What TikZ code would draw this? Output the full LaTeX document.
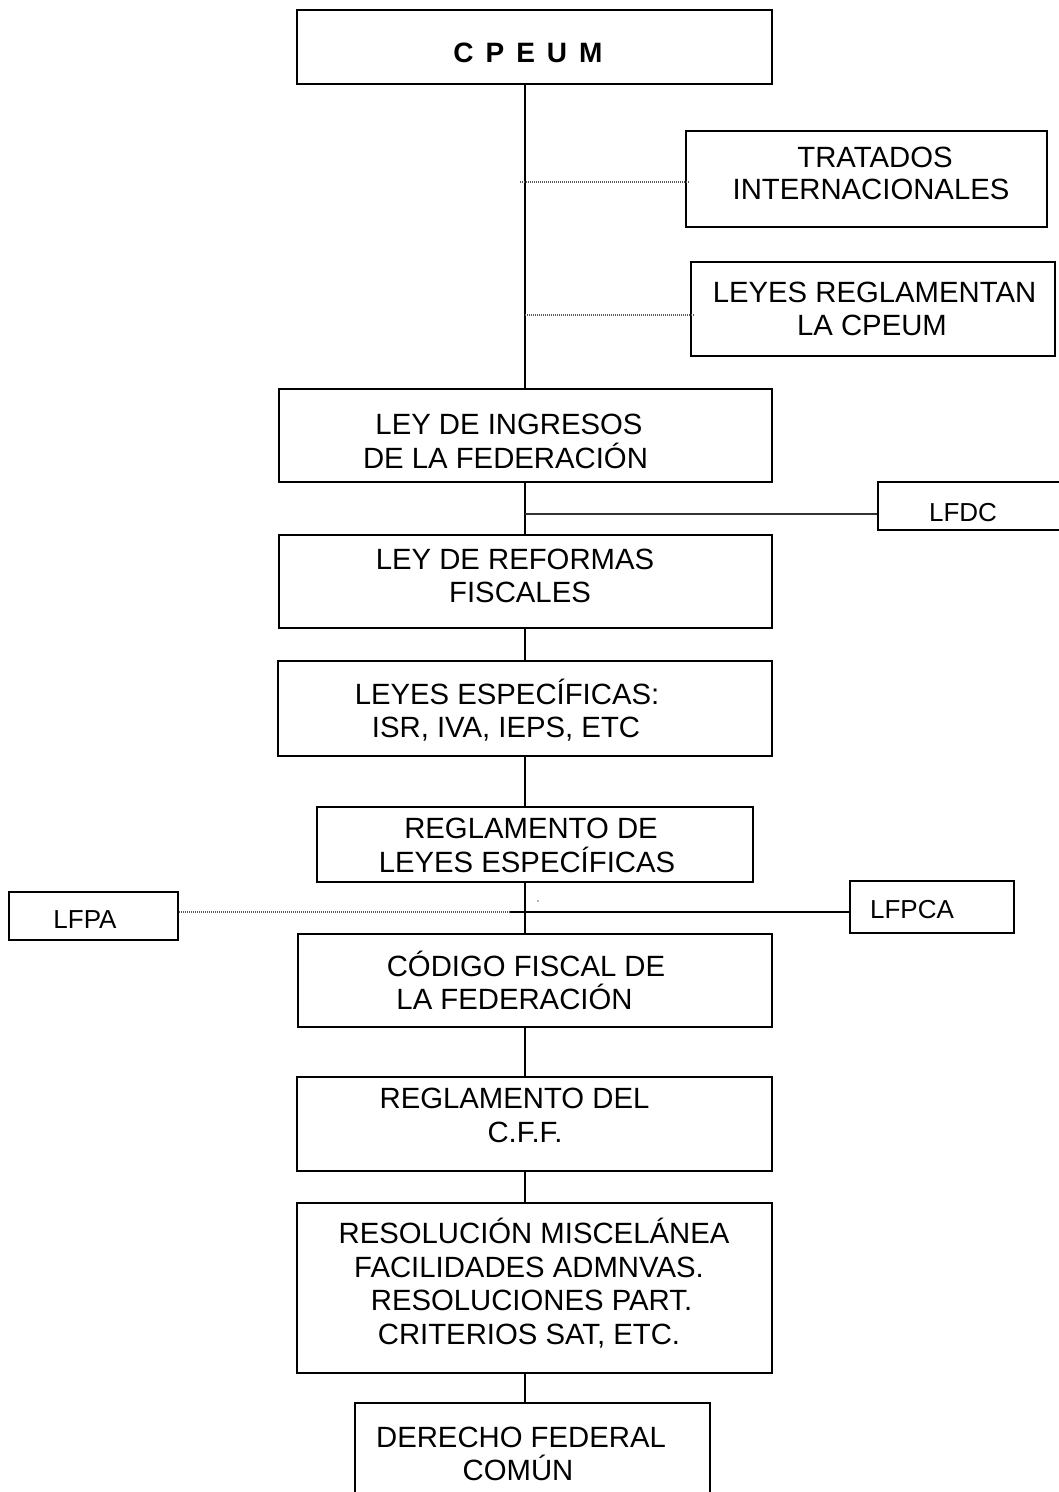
\documentclass[tikz,border=0pt]{standalone}
\usepackage{fontspec}
\setmainfont{Liberation Sans}
\tikzset{
  mainbox/.style={draw, line width=2.4pt, inner sep=0pt},
  smallbox/.style={draw, line width=1.8pt, inner sep=0pt},
  txt/.style={anchor=base, inner sep=0pt, font=\fontsize{29.3}{33.5}\selectfont},
  smalltxt/.style={anchor=base, inner sep=0pt, font=\fontsize{26}{30}\selectfont},
  trunk/.style={line width=2.5pt},
  dotline/.style={line width=1.3pt, black!65, dash pattern=on 1pt off 1pt},
  thinline/.style={line width=1.5pt, black!80},
}
\begin{document}
\begin{tikzpicture}[x=1pt,y=-1pt]
\useasboundingbox (0,0) rectangle (1059,1492);
\clip (0,0) rectangle (1059,1492);
\fill[white] (0,0) rectangle (1059,1492);
\coordinate (tx) at (525,0);

% boxes
\node[mainbox, minimum width=475, minimum height=74] (cpeum) at (534.5,47) {};
\node[mainbox, minimum width=361, minimum height=96] (tratados) at (866.5,179) {};
\node[mainbox, minimum width=364, minimum height=94] (leyesreg) at (873,309) {};
\node[mainbox, minimum width=493, minimum height=93] (ingresos) at (525.5,435.5) {};
\node[smallbox, minimum width=200, minimum height=48] (lfdc) at (978,506) {};
\node[mainbox, minimum width=493, minimum height=93] (reformas) at (525.5,581.5) {};
\node[mainbox, minimum width=494, minimum height=95] (especificas) at (525,708.5) {};
\node[mainbox, minimum width=436, minimum height=75] (reglamento) at (535,844.5) {};
\node[smallbox, minimum width=169, minimum height=48] (lfpa) at (93.5,916) {};
\node[smallbox, minimum width=164, minimum height=52] (lfpca) at (932,907) {};
\node[mainbox, minimum width=474, minimum height=93] (codigo) at (535,980.5) {};
\node[mainbox, minimum width=475, minimum height=94] (regcff) at (534.5,1124) {};
\node[mainbox, minimum width=475, minimum height=170] (resol) at (534.5,1288) {};
\node[mainbox, minimum width=355, minimum height=117] (derecho) at (532.5,1461.5) {};

% texts
\node[txt, font=\fontsize{28}{32}\selectfont\bfseries] (cpeum-t) at (528,62) {C\hspace{12pt}P\hspace{12pt}E\hspace{12pt}U\hspace{12pt}M};
\node[txt] (tratados-1) at (875,167) {TRATADOS};
\node[txt] (tratados-2) at (871,199) {INTERNACIONALES};
\node[txt] (leyesreg-1) at (874.5,302) {LEYES REGLAMENTAN};
\node[txt] (leyesreg-2) at (872,335) {LA CPEUM};
\node[txt] (ingresos-1) at (509,434) {LEY DE INGRESOS};
\node[txt] (ingresos-2) at (505.5,468) {DE LA FEDERACIÓN};
\node[smalltxt] (lfdc-t) at (963,521) {LFDC};
\node[txt] (reformas-1) at (515,569) {LEY DE REFORMAS};
\node[txt] (reformas-2) at (520,602) {FISCALES};
\node[txt] (especificas-1) at (507,704) {LEYES ESPECÍFICAS:};
\node[txt] (especificas-2) at (506,737) {ISR, IVA, IEPS, ETC};
\node[txt] (reglamento-1) at (531,838) {REGLAMENTO DE};
\node[txt] (reglamento-2) at (527,872) {LEYES ESPECÍFICAS};
\node[smalltxt] (lfpa-t) at (85,928) {LFPA};
\node[smalltxt] (lfpca-t) at (912,918) {LFPCA};
\node[txt] (codigo-1) at (526,976) {CÓDIGO FISCAL DE};
\node[txt] (codigo-2) at (514.5,1009) {LA FEDERACIÓN};
\node[txt] (regcff-1) at (514.5,1108) {REGLAMENTO DEL};
\node[txt] (regcff-2) at (525,1142) {C.F.F.};
\node[txt] (resol-1) at (534,1243) {RESOLUCIÓN MISCELÁNEA};
\node[txt] (resol-2) at (529,1277) {FACILIDADES ADMNVAS.};
\node[txt] (resol-3) at (531.5,1310) {RESOLUCIONES PART.};
\node[txt] (resol-4) at (529,1344) {CRITERIOS SAT, ETC.};
\node[txt] (derecho-1) at (521,1447) {DERECHO FEDERAL};
\node[txt] (derecho-2) at (518,1480) {COMÚN};

% trunk connectors
\draw[trunk] (cpeum.south -| tx) -- (ingresos.north -| tx);
\draw[trunk] (ingresos.south -| tx) -- (reformas.north -| tx);
\draw[trunk] (reformas.south -| tx) -- (especificas.north -| tx);
\draw[trunk] (especificas.south -| tx) -- (reglamento.north -| tx);
\draw[trunk] (reglamento.south -| tx) -- (codigo.north -| tx);
\draw[trunk] (codigo.south -| tx) -- (regcff.north -| tx);
\draw[trunk] (regcff.south -| tx) -- (resol.north -| tx);
\draw[trunk] (resol.south -| tx) -- (derecho.north -| tx);

% side connectors
\coordinate (d1) at (520,182);
\draw[dotline] (d1) -- ([xshift=4pt]d1 -| tratados.west);
\coordinate (d2) at (525,315);
\draw[dotline] (d2) -- ([xshift=4pt]d2 -| leyesreg.west);
\coordinate (c2) at (525,514);
\draw[thinline] (c2) -- (c2 -| lfdc.west);
\coordinate (c3) at (510,912);
\draw[dotline] (c3 -| lfpa.east) -- (c3);
\draw[trunk] (c3) -- (c3 -| lfpca.west);
\fill[black!60] (538,901) circle (0.8);
\end{tikzpicture}
\end{document}
